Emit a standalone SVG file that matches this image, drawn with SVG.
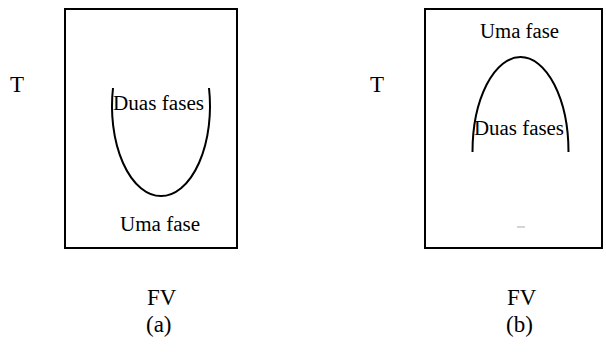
<svg xmlns="http://www.w3.org/2000/svg" width="606" height="353" viewBox="0 0 606 353">
<style>
text{font-family:'Liberation Serif','DejaVu Serif','Noto Serif',serif;fill:#000}
.lbl{font-size:20px}
.big{font-size:23px}
.box{fill:none;stroke:#000;stroke-width:2}
.curve{fill:none;stroke:#000;stroke-width:2}
</style>
<rect width="606" height="353" fill="#fff"/>
<g id="panel-a">
<rect class="box" x="65" y="9" width="172" height="239"/>
<text class="big" x="10" y="92">T</text>
<text class="lbl" x="113" y="110" textLength="91" lengthAdjust="spacingAndGlyphs">Duas fases</text>
<text class="lbl" x="120" y="231" textLength="80" lengthAdjust="spacingAndGlyphs">Uma fase</text>
<text class="big" x="147" y="305">FV</text>
<text class="big" x="146" y="332">(a)</text>
</g>
<g id="panel-b">
<rect class="box" x="425" y="9" width="177" height="239"/>
<text class="big" x="370" y="92">T</text>
<text class="lbl" x="480" y="38" textLength="79" lengthAdjust="spacingAndGlyphs">Uma fase</text>
<text class="lbl" x="474" y="135" textLength="90" lengthAdjust="spacingAndGlyphs">Duas fases</text>
<text class="big" x="507" y="305">FV</text>
<text class="big" x="506" y="332">(b)</text>
<line x1="517" y1="227" x2="525" y2="227" stroke="#aaa" stroke-width="1"/>
</g>
<g id="connectors">
<path class="curve" d="M113 88 A49 90 0 1 0 209 88"/>
<path class="curve" d="M472.5 152 A48 95 0 0 1 568.5 152"/>
</g>
</svg>
